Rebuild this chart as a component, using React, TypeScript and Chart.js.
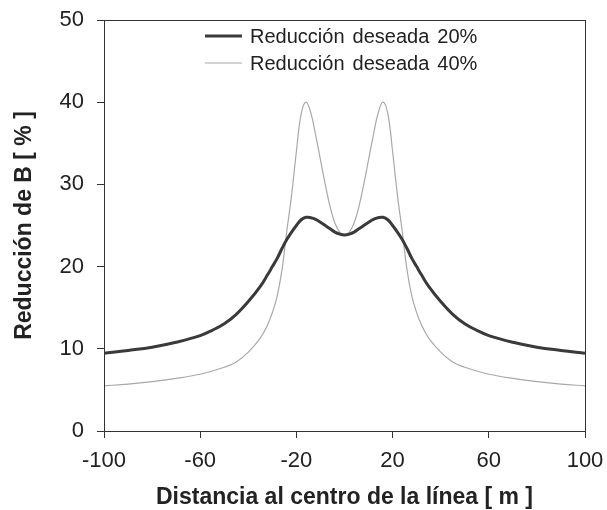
import { useEffect, useRef } from 'react';
import { Chart, registerables } from 'chart.js';

Chart.register(...registerables);

const distance = [-100, -90, -80, -70, -60, -55, -50, -45, -40, -35, -32, -30, -28, -26, -24, -22, -20, -18, -16, -14, -12, -10, -8, -6, -4, -2, 0, 2, 4, 6, 8, 10, 12, 14, 16, 18, 20, 22, 24, 26, 28, 30, 32, 35, 40, 45, 50, 55, 60, 70, 80, 90, 100];

const reduccion20 = [9.45, 9.8, 10.2, 10.8, 11.6, 12.25, 13.05, 14.2, 15.75, 17.6, 19.0, 20.0, 21.0, 22.2, 23.3, 24.2, 25.0, 25.7, 26.0, 25.95, 25.75, 25.4, 25.0, 24.6, 24.2, 23.95, 23.85, 23.95, 24.2, 24.6, 25.0, 25.4, 25.75, 25.95, 26.0, 25.7, 25.0, 24.2, 23.3, 22.2, 21.0, 20.0, 19.0, 17.6, 15.75, 14.2, 13.05, 12.25, 11.6, 10.8, 10.2, 9.8, 9.45];

const reduccion40 = [5.5, 5.7, 6.0, 6.4, 6.9, 7.3, 7.75, 8.4, 9.6, 11.3, 12.9, 14.4, 16.4, 19.6, 24.3, 28.7, 34.0, 38.6, 40.0, 38.7, 36.0, 33.0, 30.0, 27.3, 25.3, 24.2, 23.8, 24.2, 25.3, 27.3, 30.0, 33.0, 36.0, 38.7, 40.0, 38.6, 34.0, 28.7, 24.3, 19.6, 16.4, 14.4, 12.9, 11.3, 9.6, 8.4, 7.75, 7.3, 6.9, 6.4, 6.0, 5.7, 5.5];

const seriesLabels = ['Reducción deseada 20%', 'Reducción deseada 40%'];
const xTicks = [-100, -60, -20, 20, 60, 100];
const yTicks = [0, 10, 20, 30, 40, 50];

const FONT = "'Liberation Sans', Arial, sans-serif";

const framePlugin = {
  id: 'frame',
  afterDraw(chart: any) {
    const { ctx, chartArea } = chart;
    ctx.save();
    ctx.strokeStyle = '#333';
    ctx.lineWidth = 1;
    ctx.strokeRect(chartArea.left + 0.5, chartArea.top + 0.5, chartArea.right - chartArea.left, chartArea.bottom - chartArea.top);
    ctx.restore();
  },
};

const legendPlugin = {
  id: 'insideLegend',
  afterDraw(chart: any) {
    const { ctx } = chart;
    ctx.save();
    ctx.font = `20px ${FONT}`;
    try { (ctx as any).wordSpacing = '2.5px'; } catch (e) { /* ignore */ }
    ctx.textBaseline = 'middle';
    ctx.textAlign = 'left';
    const lx0 = 205;
    const lx1 = 242;
    const tx = 250;
    const ys = [36, 63];
    chart.data.datasets.forEach((ds: any, i: number) => {
      ctx.strokeStyle = ds.borderColor;
      ctx.lineWidth = ds.borderWidth;
      ctx.beginPath();
      ctx.moveTo(lx0, ys[i]);
      ctx.lineTo(lx1, ys[i]);
      ctx.stroke();
      ctx.fillStyle = '#222';
      ctx.fillText(ds.label, tx, ys[i] + 1);
    });
    ctx.restore();
  },
};

export default function App() {
  const ref = useRef<HTMLCanvasElement>(null);
  useEffect(() => {
    if (!ref.current) return;
    const chart = new Chart(ref.current, {
      type: 'line',
      data: {
        datasets: [
          {
            label: seriesLabels[0],
            data: distance.map((x, i) => ({ x, y: reduccion20[i] })),
            borderColor: '#3a3a3a',
            borderWidth: 3,
            pointRadius: 0,
            tension: 0.4,
            fill: false,
          },
          {
            label: seriesLabels[1],
            data: distance.map((x, i) => ({ x, y: reduccion40[i] })),
            borderColor: '#a8a8a8',
            borderWidth: 1.2,
            pointRadius: 0,
            tension: 0.4,
            fill: false,
          },
        ],
      },
      options: {
        animation: false,
        responsive: false,
        layout: { padding: { top: 20, right: 22, left: 0, bottom: 0 } },
        plugins: { legend: { display: false }, tooltip: { enabled: false } },
        scales: {
          x: {
            type: 'linear',
            min: -100,
            max: 100,
            afterBuildTicks: (s: any) => {
              s.ticks = xTicks.map((v) => ({ value: v }));
            },
            afterFit: (s: any) => {
              s.height = 79;
              s.paddingLeft = 0;
              s.paddingRight = 0;
            },
            ticks: { font: { family: FONT, size: 22 }, color: '#222', padding: 10, maxRotation: 0, autoSkip: false },
            grid: { drawOnChartArea: false, tickLength: 7, color: '#333' },
            border: { color: '#333', width: 1 },
            title: {
              display: true,
              text: 'Distancia al centro de la línea [ m ]',
              font: { family: FONT, size: 23, weight: 'bold', lineHeight: 1 },
              color: '#222',
              padding: { top: 4, bottom: 1 },
            },
          },
          y: {
            type: 'linear',
            min: 0,
            max: 50,
            afterBuildTicks: (s: any) => {
              s.ticks = yTicks.map((v) => ({ value: v }));
            },
            afterFit: (s: any) => {
              s.width = 104;
              s.paddingTop = 0;
              s.paddingBottom = 0;
            },
            ticks: { font: { family: FONT, size: 22 }, color: '#222', padding: 13 },
            grid: { drawOnChartArea: false, tickLength: 7, color: '#333' },
            border: { color: '#333', width: 1 },
            title: {
              display: true,
              text: 'Reducción de B [ % ]',
              font: { family: FONT, size: 23, weight: 'bold' },
              color: '#222',
              padding: { top: 11, bottom: 4 },
            },
          },
        },
      },
      plugins: [framePlugin, legendPlugin],
    } as any);
    return () => chart.destroy();
  }, []);
  return (
    <div style={{ position: 'absolute', left: 0, top: 0, width: 607, height: 510, background: '#fff' }}>
      <canvas ref={ref} width={607} height={510} />
    </div>
  );
}
